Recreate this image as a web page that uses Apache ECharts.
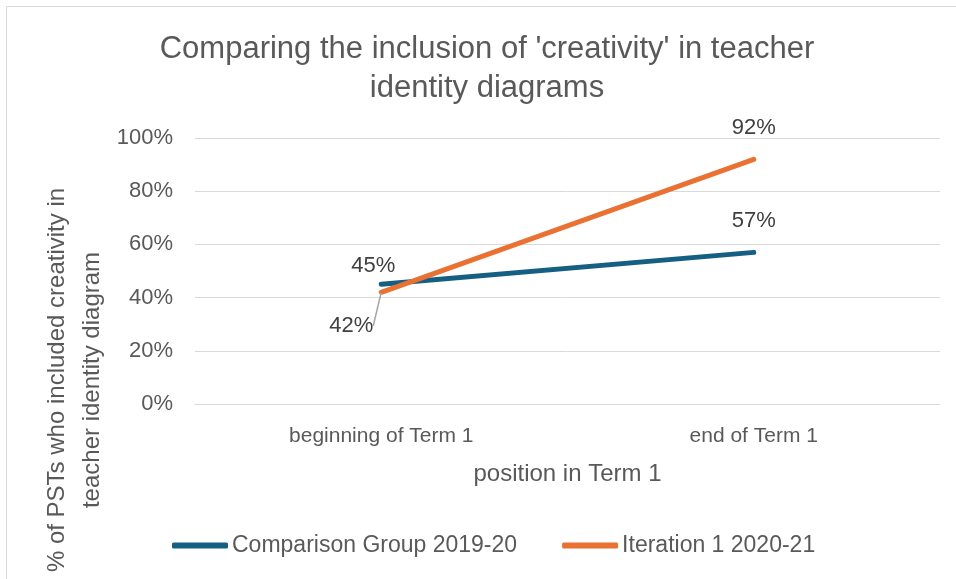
<!DOCTYPE html>
<html><head><meta charset="utf-8">
<script src="https://cdn.jsdelivr.net/npm/echarts@6/dist/echarts.min.js"></script>
<style>html,body{margin:0;padding:0;background:#fff}#c{width:956px;height:579px}</style>
</head><body><div id="c"></div>
<script>
var categories = ['beginning of Term 1', 'end of Term 1'];
var comparisonGroup = [45, 57];
var iteration1 = [42, 92];
var yTicks = [0, 20, 40, 60, 80, 100];
var seriesNames = ['Comparison Group 2019-20', 'Iteration 1 2020-21'];

var FONT = '"Liberation Sans", Arial, sans-serif';
var TXT = '#595959';
var LBL = '#404040';

var orangeData = iteration1.map(function (v, i) {
  return i === 0 ? {value: v} : {value: v, labelLine: {show: false}};
});

var chart = echarts.init(document.getElementById('c'));
chart.setOption({
  animation: false,
  textStyle: {fontFamily: FONT},
  title: {
    text: "Comparing the inclusion of 'creativity' in teacher\nidentity diagrams",
    left: 482, top: 25, textAlign: 'center',
    textStyle: {fontFamily: FONT, fontSize: 31, fontWeight: 'normal', color: TXT, lineHeight: 39}
  },
  graphic: [
    {type: 'rect', shape: {x: 6.5, y: 6.5, width: 1000, height: 1000}, style: {fill: 'none', stroke: '#d9d9d9', lineWidth: 1}, silent: true},
    {type: 'text', x: 75, y: 380, rotation: Math.PI / 2, style: {text: '% of PSTs who included creativity in\nteacher identity diagram', font: '24px ' + FONT, fill: TXT, align: 'center', verticalAlign: 'middle', lineHeight: 35}}
  ],
  legend: {
    bottom: 17, left: 167, itemWidth: 56, itemHeight: 6, itemGap: 45,
    data: seriesNames,
    textStyle: {fontSize: 23, color: TXT, fontFamily: FONT, padding: [0, 0, 0, -1]},
    icon: 'roundRect'
  },
  grid: {left: 195, right: 16, top: 138, bottom: 175},
  xAxis: {
    type: 'category', data: categories,
    name: 'position in Term 1', nameLocation: 'middle', nameGap: 58,
    nameTextStyle: {fontSize: 24, color: TXT},
    axisLine: {lineStyle: {color: '#d9d9d9', width: 1}},
    axisTick: {show: false},
    axisLabel: {fontSize: 21, color: TXT, margin: 22}
  },
  yAxis: {
    type: 'value', min: 0, max: 100, interval: 20,
    axisLabel: {fontSize: 22, color: TXT, margin: 22, formatter: function (v) { return yTicks.indexOf(v) >= 0 ? v + '%' : ''; }},
    splitLine: {lineStyle: {color: '#d9d9d9', width: 1}},
    axisLine: {show: false}, axisTick: {show: false}
  },
  series: [
    {
      name: seriesNames[0], type: 'line', data: comparisonGroup,
      symbol: 'circle', symbolSize: 1, showSymbol: true,
      lineStyle: {width: 5, color: '#156082', cap: 'round'}, itemStyle: {color: '#156082'},
      label: {show: true, position: 'top', distance: 20, fontSize: 22, color: LBL, formatter: '{c}%'},
      labelLayout: function (p) {
        if (p.dataIndex === 0) { return {dx: -8, dy: 13}; }
        return {};
      },
      z: 2
    },
    {
      name: seriesNames[1], type: 'line', data: orangeData,
      symbol: 'circle', symbolSize: 1, showSymbol: true,
      lineStyle: {width: 5, color: '#E97132', cap: 'round'}, itemStyle: {color: '#E97132'},
      label: {show: true, position: 'top', distance: 20, fontSize: 22, color: LBL, formatter: '{c}%'},
      labelLine: {show: true, lineStyle: {color: '#a6a6a6', width: 1.5}},
      labelLayout: function (p) {
        if (p.dataIndex === 0) { return {dx: -30, dy: 65}; }
        return {};
      },
      z: 3
    }
  ]
});
</script></body></html>
